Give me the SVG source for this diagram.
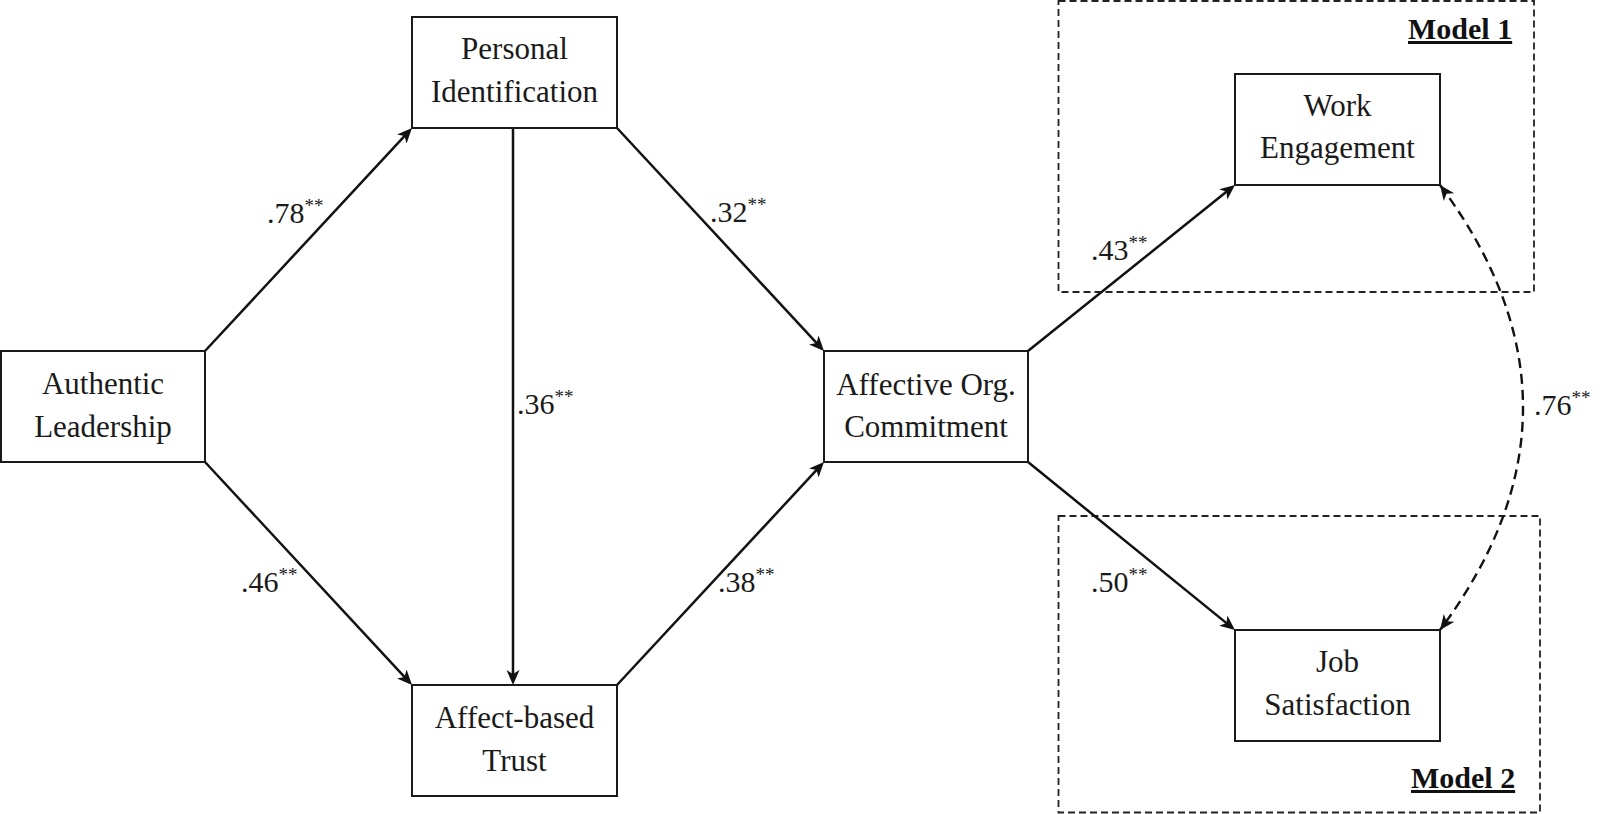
<svg xmlns="http://www.w3.org/2000/svg" width="1601" height="814" viewBox="0 0 1601 814">
<defs>
<style>
.box{fill:#fff;stroke:#1a1a1a;stroke-width:2}
.nt{font-family:"Liberation Serif","Times New Roman",serif;font-size:31px;fill:#1a1a1a;text-anchor:middle}
.lb{font-family:"Liberation Serif","Times New Roman",serif;font-size:30px;fill:#1a1a1a}
.sup{font-size:19px}
.edge{fill:none;stroke:#111;stroke-width:2.5}
.dcurve{fill:none;stroke:#111;stroke-width:2.4;stroke-dasharray:10 6}
.frame{fill:none;stroke:#222;stroke-width:1.8;stroke-dasharray:7 4}
.mt{font-family:"Liberation Serif","Times New Roman",serif;font-size:30px;font-weight:bold;fill:#111}
</style>
<marker id="arr" markerUnits="userSpaceOnUse" markerWidth="16" markerHeight="14" refX="10" refY="6.5" orient="auto">
<path d="M0,0 L15,6.5 L0,13 L4,6.5 Z" fill="#111"/>
</marker>
<marker id="arrc" markerUnits="userSpaceOnUse" markerWidth="16" markerHeight="14" refX="15" refY="6.5" orient="auto-start-reverse">
<path d="M0,0 L15,6.5 L0,13 L4,6.5 Z" fill="#111"/>
</marker>
</defs>
<rect width="1601" height="814" fill="#fff"/>

<g id="frames">
<rect class="frame" x="1058.5" y="1" width="475.5" height="291"/>
<rect class="frame" x="1058.5" y="516" width="481.5" height="296.5"/>
<text class="mt" x="1408" y="39" text-decoration="underline">Model 1</text>
<text class="mt" x="1411" y="788" text-decoration="underline">Model 2</text>
</g>

<g id="connectors">
<line class="edge" x1="205" y1="351" x2="408.6" y2="131.7" marker-end="url(#arr)"/>
<line class="edge" x1="205" y1="462" x2="408.6" y2="681.3" marker-end="url(#arr)"/>
<line class="edge" x1="513" y1="128" x2="513" y2="680" marker-end="url(#arr)"/>
<line class="edge" x1="617" y1="128" x2="820.6" y2="347.3" marker-end="url(#arr)"/>
<line class="edge" x1="617" y1="685" x2="820.6" y2="465.7" marker-end="url(#arr)"/>
<line class="edge" x1="1028" y1="351" x2="1231.1" y2="188.1" marker-end="url(#arr)"/>
<line class="edge" x1="1028" y1="462" x2="1231.1" y2="626.9" marker-end="url(#arr)"/>
<path class="dcurve" d="M1440,185 Q1606,407.5 1440,630" marker-start="url(#arrc)" marker-end="url(#arrc)"/>
</g>

<g id="labels">
<text class="lb" x="267" y="223">.78<tspan class="sup" dy="-11">**</tspan></text>
<text class="lb" x="517" y="414">.36<tspan class="sup" dy="-11">**</tspan></text>
<text class="lb" x="241" y="592">.46<tspan class="sup" dy="-11">**</tspan></text>
<text class="lb" x="710" y="222">.32<tspan class="sup" dy="-11">**</tspan></text>
<text class="lb" x="718" y="592">.38<tspan class="sup" dy="-11">**</tspan></text>
<text class="lb" x="1091" y="260">.43<tspan class="sup" dy="-11">**</tspan></text>
<text class="lb" x="1091" y="592">.50<tspan class="sup" dy="-11">**</tspan></text>
<text class="lb" x="1534" y="415">.76<tspan class="sup" dy="-11">**</tspan></text>
</g>

<g id="n-authentic">
<rect class="box" x="1" y="351" width="204" height="111"/>
<text class="nt" x="103" y="394">Authentic</text>
<text class="nt" x="103" y="437">Leadership</text>
</g>
<g id="n-personal">
<rect class="box" x="412" y="17" width="205" height="111"/>
<text class="nt" x="514.5" y="59">Personal</text>
<text class="nt" x="514.5" y="102">Identification</text>
</g>
<g id="n-trust">
<rect class="box" x="412" y="685" width="205" height="111"/>
<text class="nt" x="514.5" y="728">Affect-based</text>
<text class="nt" x="514.5" y="771">Trust</text>
</g>
<g id="n-commitment">
<rect class="box" x="824" y="351" width="204" height="111"/>
<text class="nt" x="926" y="395">Affective Org.</text>
<text class="nt" x="926" y="437">Commitment</text>
</g>
<g id="n-engagement">
<rect class="box" x="1235" y="74" width="205" height="111"/>
<text class="nt" x="1337.5" y="116">Work</text>
<text class="nt" x="1337.5" y="158">Engagement</text>
</g>
<g id="n-satisfaction">
<rect class="box" x="1235" y="630" width="205" height="111"/>
<text class="nt" x="1337.5" y="672">Job</text>
<text class="nt" x="1337.5" y="715">Satisfaction</text>
</g>
</svg>
